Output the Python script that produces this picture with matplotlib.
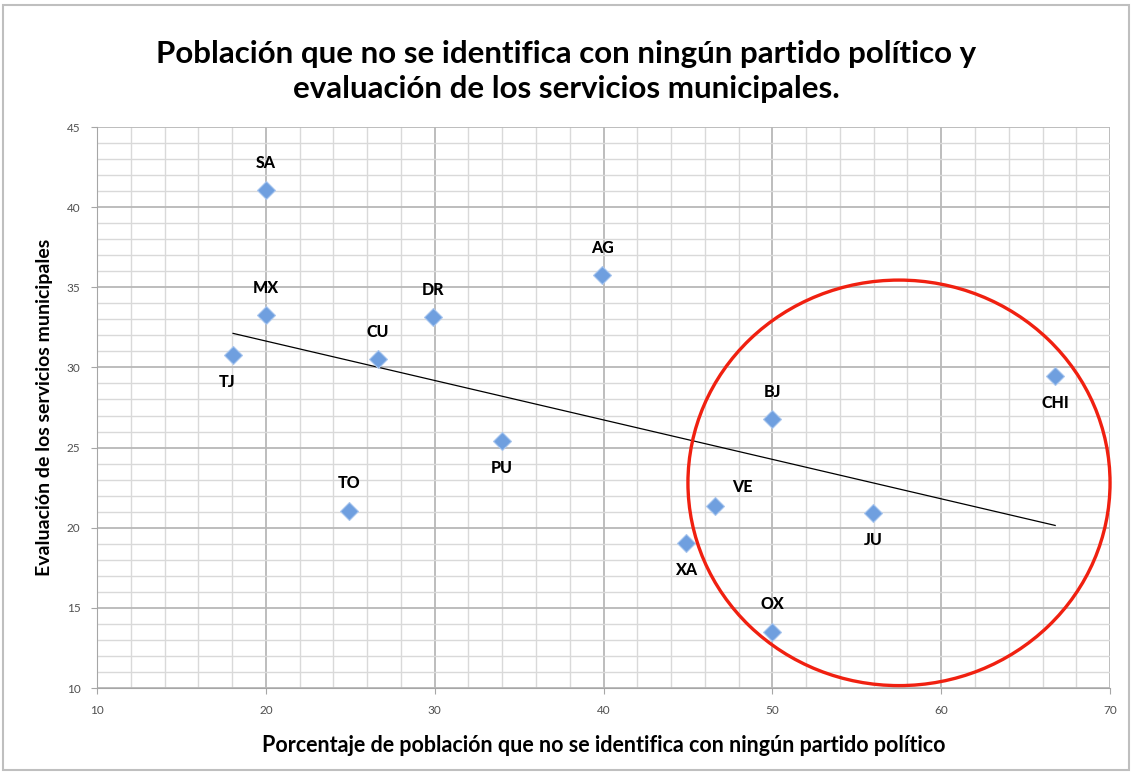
import numpy as np
import matplotlib
matplotlib.use("Agg")
import matplotlib.pyplot as plt
from matplotlib.patches import Ellipse, Rectangle
from matplotlib.ticker import MultipleLocator

plt.rcParams['font.family'] = ['Lato', 'DejaVu Sans']

labels = ["SA", "MX", "TJ", "CU", "DR", "AG", "PU", "TO", "XA", "VE", "BJ", "OX", "JU", "CHI"]
x_vals = [20.0, 20.0, 18.06, 26.65, 29.9, 39.92, 34.0, 24.93, 44.9, 46.6, 50.0, 50.0, 55.97, 66.75]
y_vals = [41.07, 33.27, 30.78, 30.53, 33.15, 35.77, 25.41, 21.05, 19.05, 21.36, 26.78, 13.5, 20.92, 29.47]
label_pos = ["above", "above", "belowleft", "above", "above", "above", "below", "above",
             "below", "aboveright", "above", "above", "below", "below"]

fig = plt.figure(figsize=(11.32, 7.74), dpi=100)
fig.patches.append(Rectangle((0.003, 0.005), 0.994, 0.988, transform=fig.transFigure,
                             fill=False, edgecolor="#BFBFBF", linewidth=1.5))
ax = fig.add_axes([0.0857, 0.1111, 0.8949, 0.7248])

ax.set_xlim(10, 70)
ax.set_ylim(10, 45)
ax.xaxis.set_major_locator(MultipleLocator(10))
ax.xaxis.set_minor_locator(MultipleLocator(2))
ax.yaxis.set_major_locator(MultipleLocator(5))
ax.yaxis.set_minor_locator(MultipleLocator(1))
ax.grid(which="major", color="#B8B8B8", linewidth=1.3)
ax.grid(which="minor", color="#D9D9D9", linewidth=1.0)
ax.set_axisbelow(True)
for s in ["top", "right"]:
    ax.spines[s].set_visible(False)
for s in ["left", "bottom"]:
    ax.spines[s].set_color("#A6A6A6")
ax.tick_params(which="both", length=0, labelsize=8.5, colors="#505050", pad=8)
ax.tick_params(which="major", axis="both", length=4, color="#A6A6A6")
ax.tick_params(which="minor", length=0)

# trend line
coef = np.polyfit(x_vals, y_vals, 1)
xl = np.array([min(x_vals), max(x_vals)])
ax.plot(xl, np.polyval(coef, xl), color="black", linewidth=0.9, zorder=3)

ax.plot(x_vals, y_vals, linestyle="none", marker="D", markersize=9,
        markerfacecolor="#6F9FDF", markeredgecolor="#A9C6EE", markeredgewidth=0.8, zorder=4)

offsets = {"above": (0, 14, "center", "bottom"), "below": (0, -14, "center", "top"),
           "belowleft": (-4, -14, "center", "top"), "aboveright": (20, 8, "center", "bottom")}
for lab, x, y, p in zip(labels, x_vals, y_vals, label_pos):
    dx, dy, ha, va = offsets[p]
    ax.annotate(lab, (x, y), xytext=(dx, dy), textcoords="offset points",
                ha=ha, va=va, fontsize=11.5, fontweight=900, color="black", zorder=5)

ax.add_patch(Ellipse((57.5, 22.8), 25.0, 25.3, fill=False, edgecolor="#F02010",
                     linewidth=2.4, zorder=6, clip_on=False))

ax.set_xlabel("Porcentaje de población que no se identifica con ningún partido político",
              fontsize=15.5, fontweight="bold", labelpad=14)
ax.set_ylabel("Evaluación de los servicios municipales", fontsize=14, fontweight="bold", labelpad=10)
fig.text(0.5, 0.908, "Población que no se identifica con ningún partido político y\nevaluación de los servicios municipales.",
         ha="center", va="center", fontsize=22.5, fontweight="bold", linespacing=1.3)

fig.savefig("out.png", dpi=100)
